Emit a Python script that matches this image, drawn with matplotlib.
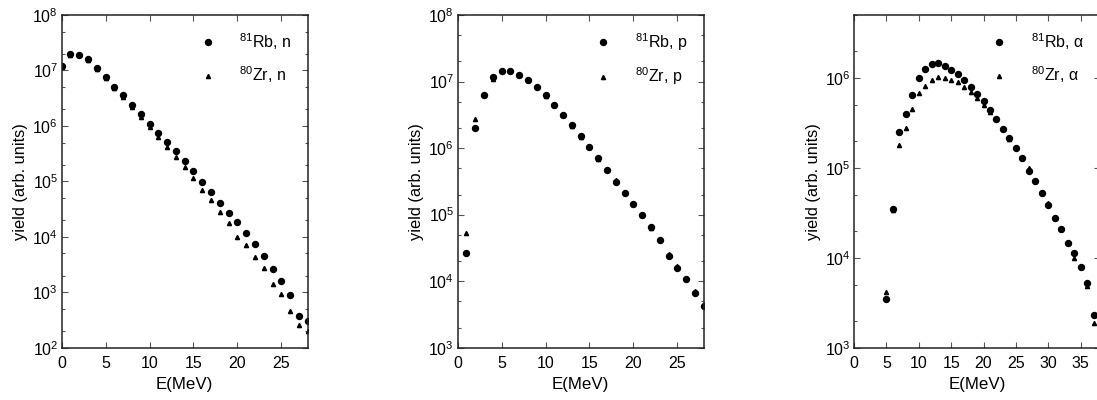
import numpy as np
import matplotlib
matplotlib.use('Agg')
import matplotlib.pyplot as plt
from matplotlib.ticker import LogLocator, LogFormatterSciNotation, MultipleLocator, NullFormatter

plt.rcParams['font.family'] = ['Liberation Sans', 'DejaVu Sans']
plt.rcParams['mathtext.fontset'] = 'custom'
plt.rcParams['mathtext.rm'] = 'Liberation Sans'
plt.rcParams['mathtext.it'] = 'Liberation Sans:italic'
plt.rcParams['font.size'] = 11

# neutron spectra
e_n = np.arange(0, 29)
rb_n = [1.2e7, 1.95e7, 1.87e7, 1.58e7, 1.09e7, 7.6e6, 5.1e6, 3.6e6, 2.38e6, 1.64e6,
        1.08e6, 7.5e5, 5.05e5, 3.5e5, 2.32e5, 1.53e5, 9.6e4, 6.5e4, 4.1e4, 2.7e4,
        1.85e4, 1.15e4, 7.3e3, 4.5e3, 2.65e3, 1.6e3, 8.8e2, 3.7e2, 3.06e2]
zr_n = [1.15e7, 1.9e7, 2.0e7, 1.55e7, 1.05e7, 7.2e6, 4.75e6, 3.27e6, 2.16e6, 1.43e6,
        9.7e5, 6.4e5, 4.2e5, 2.78e5, 1.79e5, 1.15e5, 7.0e4, 4.6e4, 2.8e4, 1.75e4,
        9.8e3, 7.1e3, 4.37e3, 2.73e3, 1.42e3, 9.1e2, 4.6e2, 2.56e2, 2.0e2]

# proton spectra
e_p = np.arange(1, 29)
rb_p = [2.63e4, 2.03e6, 6.36e6, 1.15e7, 1.43e7, 1.43e7, 1.27e7, 1.06e7, 8.3e6, 6.2e6,
        4.5e6, 3.15e6, 2.2e6, 1.5e6, 1.03e6, 7.0e5, 4.7e5, 3.06e5, 2.14e5, 1.43e5,
        9.8e4, 6.4e4, 4.2e4, 2.4e4, 1.55e4, 1.08e4, 6.6e3, 4.3e3]
zr_p = [5.2e4, 2.74e6, 6.3e6, 1.08e7, 1.45e7, 1.42e7, 1.26e7, 1.05e7, 8.2e6, 6.1e6,
        4.45e6, 3.1e6, 2.17e6, 1.48e6, 1.02e6, 6.9e5, 4.9e5, 3.3e5, 2.12e5, 1.42e5,
        9.7e4, 6.3e4, 4.15e4, 2.6e4, 1.7e4, 1.07e4, 7.0e3, 4.3e3]

# alpha spectra
e_a = np.arange(5, 38)
rb_a = [3.47e3, 3.47e4, 2.51e5, 4.0e5, 6.5e5, 1.0e6, 1.24e6, 1.41e6, 1.47e6, 1.36e6,
        1.22e6, 1.1e6, 9.4e5, 7.9e5, 6.6e5, 5.55e5, 4.37e5, 3.53e5, 2.69e5, 2.12e5,
        1.64e5, 1.27e5, 9.3e4, 7.2e4, 5.2e4, 3.9e4, 2.78e4, 2.06e4, 1.46e4, 1.12e4,
        7.9e3, 5.2e3, 2.3e3]
zr_a = [4.19e3, 3.4e4, 1.79e5, 2.74e5, 4.45e5, 6.7e5, 8.15e5, 9.5e5, 1.02e6, 9.9e5,
        9.4e5, 9.0e5, 7.95e5, 7.0e5, 5.9e5, 4.96e5, 4.12e5, 3.5e5, 2.7e5, 2.1e5,
        1.7e5, 1.27e5, 9.9e4, 7.2e4, 5.2e4, 4.1e4, 2.78e4, 2.06e4, 1.46e4, 1.0e4,
        7.9e3, 4.8e3, 1.9e3]

panels = [
    (e_n, rb_n, zr_n, 'n', (0, 28), (1e2, 1e8)),
    (e_p, rb_p, zr_p, 'p', (0, 28), (1e3, 1e8)),
    (e_a, rb_a, zr_a, 'α', (0, 38), (1e3, 5e6)),
]
lefts = [0.0562, 0.4172, 0.7785]

fig = plt.figure(figsize=(10.97, 4.0), dpi=100)

for (x, rb, zr, part, xl, yl), left in zip(panels, lefts):
    ax = fig.add_axes([left, 0.1308, 0.2243, 0.8318])
    ax.plot(x, rb, 'o', color='black', markersize=4.3, label=r'$^{81}$Rb, ' + part)
    ax.plot(x, zr, '^', color='black', markersize=3.0, label=r'$^{80}$Zr, ' + part)
    ax.set_yscale('log')
    ax.set_xlim(*xl)
    ax.set_ylim(*yl)
    ax.xaxis.set_major_locator(MultipleLocator(5))
    ax.yaxis.set_major_locator(LogLocator(base=10, numticks=12))
    ax.yaxis.set_major_formatter(LogFormatterSciNotation())
    ax.yaxis.set_minor_locator(LogLocator(base=10, subs=(2, 5), numticks=12))
    ax.yaxis.set_minor_formatter(NullFormatter())
    ax.tick_params(which='both', direction='in', top=True, right=True,
                   color='#555555', labelsize=11.5)
    ax.tick_params(which='major', length=4.5, width=0.8)
    ax.tick_params(which='minor', length=2.5, width=0.8)
    ax.tick_params(axis='x', which='major', pad=6)
    ax.tick_params(axis='y', which='major', pad=2.5)
    for s in ax.spines.values():
        s.set_linewidth(1.1)
        s.set_color('#222222')
    ax.set_xlabel('E(MeV)', fontsize=12.2, labelpad=4)
    ax.set_ylabel('yield (arb. units)', fontsize=11.8, labelpad=3)
    ax.legend(loc='upper right', frameon=False, handlelength=1.0,
              handletextpad=1.5, labelspacing=0.8, borderpad=0.0,
              borderaxespad=1.0, fontsize=11.5)

fig.savefig('out.png', dpi=100)
